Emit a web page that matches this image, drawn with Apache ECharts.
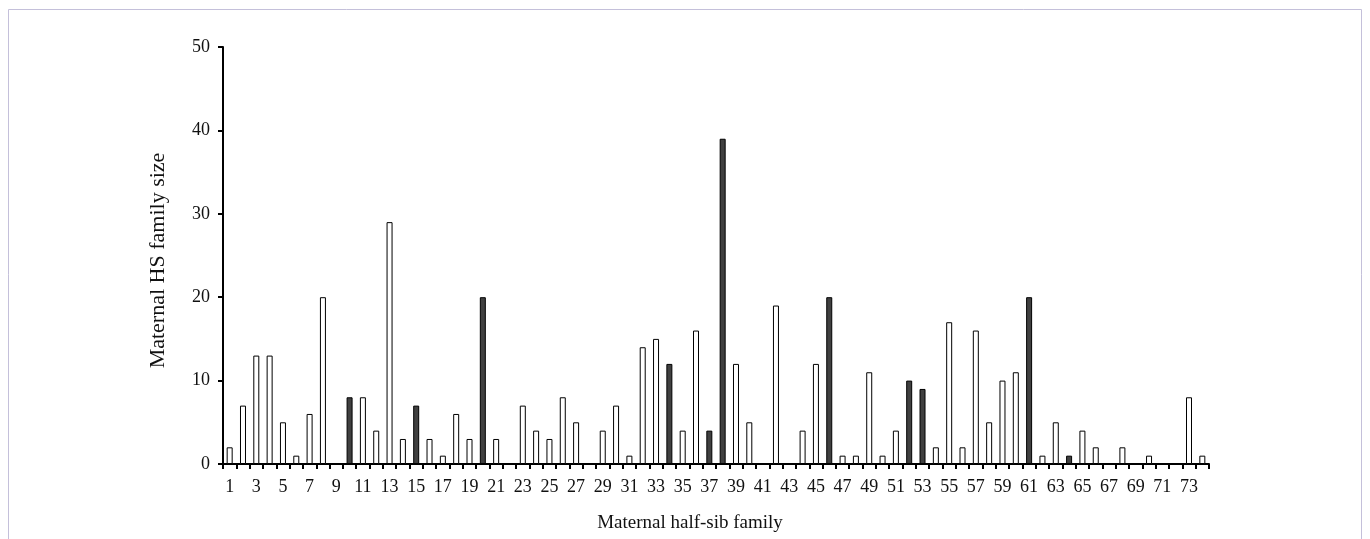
<!DOCTYPE html>
<html>
<head>
<meta charset="utf-8">
<script src="https://cdn.jsdelivr.net/npm/echarts@6/dist/echarts.min.js"></script>
<style>
html, body { margin: 0; padding: 0; background: #fff; }
#main { width: 1370px; height: 539px; }
</style>
</head>
<body>
<div id="main"></div>
<script>
var families = []
for (var i = 1; i <= 74; i++) families.push(String(i))

var familySize = [2, 7, 13, 13, 5, 1, 6, 20, 0, 8,
	8, 4, 29, 3, 7, 3, 1, 6, 3, 20,
	3, 0, 7, 4, 3, 8, 5, 0, 4, 7,
	1, 14, 15, 12, 4, 16, 4, 39, 12, 5,
	0, 19, 0, 4, 12, 20, 1, 1, 11, 1,
	4, 10, 9, 2, 17, 2, 16, 5, 10, 11,
	20, 1, 5, 1, 4, 2, 0, 2, 0, 1,
	0, 0, 8, 1]

// families drawn with dark fill
var darkFamilies = ['10', '15', '20', '34', '37', '38', '46', '52', '53', '61', '64']

var yTicks = [0, 10, 20, 30, 40, 50]

var chartDom = document.getElementById('main');
var myChart = echarts.init(chartDom);
var font = '"Liberation Serif", "Times New Roman", serif';

var barData = familySize.map(function(v, i) {
	var dark = darkFamilies.indexOf(families[i]) >= 0;
	return {
		value: v,
		itemStyle: {
			color: dark ? '#404040' : '#ffffff',
			borderColor: '#000',
			borderWidth: 1
		}
	};
});

var option = {
	animation: false,
	backgroundColor: '#fff',
	graphic: [{
		type: 'polyline',
		shape: { points: [[8.5, 539], [8.5, 9.5], [1361.5, 9.5], [1361.5, 539]] },
		style: { stroke: '#c4c0da', lineWidth: 1, fill: null }
	}],
	grid: {
		left: 223,
		right: 161,
		top: 47,
		bottom: 75
	},
	xAxis: {
		type: 'category',
		data: families,
		name: 'Maternal half-sib family',
		nameLocation: 'middle',
		nameGap: 50,
		nameTextStyle: { fontFamily: font, fontSize: 19, color: '#111', padding: [0, 52, 0, 0] },
		axisLine: { lineStyle: { color: '#000', width: 2 } },
		axisTick: { show: true, interval: 0, length: 5, lineStyle: { color: '#000', width: 2 } },
		axisLabel: { interval: 1, fontFamily: font, fontSize: 18, color: '#111', margin: 14 }
	},
	yAxis: {
		type: 'value',
		min: 0,
		max: 50,
		interval: 10,
		name: 'Maternal HS family size',
		nameLocation: 'middle',
		nameGap: 54,
		nameTextStyle: { fontFamily: font, fontSize: 22, color: '#111', padding: [0, 10, 0, 0] },
		splitLine: { show: false },
		axisLine: { show: true, lineStyle: { color: '#000', width: 2 } },
		axisTick: { show: true, length: 5, lineStyle: { color: '#000', width: 2 } },
		axisLabel: {
			fontFamily: font, fontSize: 18, color: '#111', margin: 13,
			formatter: function(v) { return yTicks.indexOf(v) >= 0 ? String(v) : ''; }
		}
	},
	series: [{
		type: 'bar',
		data: barData,
		barWidth: 6
	}]
};

myChart.setOption(option);
</script>
</body>
</html>
